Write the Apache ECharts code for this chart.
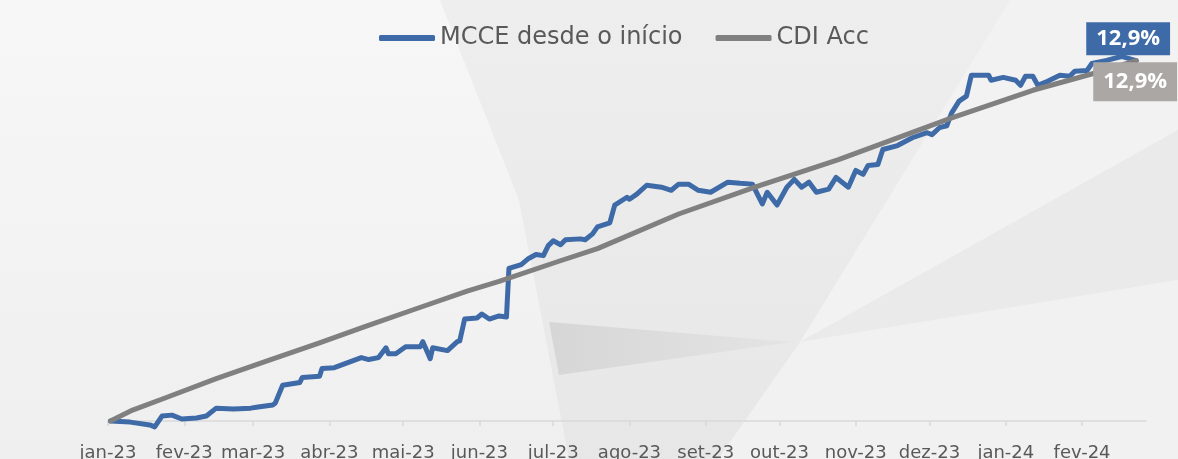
<!DOCTYPE html>
<html>
<head>
<meta charset="utf-8">
<script src="https://cdn.jsdelivr.net/npm/echarts@6/dist/echarts.min.js"></script>
<style>
html, body { margin: 0; padding: 0; background: #efefef; }
#main { width: 1178px; height: 459px; }
</style>
</head>
<body>
<div id="main"></div>
<script>
// MCCE desde o início (% acumulado)
var mcceDates = ['2023-01-02','2023-01-10','2023-01-18','2023-01-20','2023-01-23','2023-01-27','2023-01-31','2023-02-06','2023-02-10','2023-02-14',
	'2023-02-21','2023-02-28','2023-03-03','2023-03-09','2023-03-10','2023-03-13','2023-03-20','2023-03-21','2023-03-28','2023-03-29',
	'2023-04-03','2023-04-14','2023-04-17','2023-04-21','2023-04-24','2023-04-25','2023-04-28','2023-05-02','2023-05-08','2023-05-09',
	'2023-05-12','2023-05-13','2023-05-19','2023-05-23','2023-05-24','2023-05-26','2023-05-31','2023-06-02','2023-06-05','2023-06-09',
	'2023-06-12','2023-06-13','2023-06-18','2023-06-21','2023-06-24','2023-06-27','2023-06-29','2023-07-01','2023-07-04','2023-07-06',
	'2023-07-12','2023-07-14','2023-07-17','2023-07-19','2023-07-24','2023-07-26','2023-07-31','2023-08-01','2023-08-04','2023-08-08',
	'2023-08-14','2023-08-18','2023-08-21','2023-08-25','2023-08-29','2023-09-03','2023-09-10','2023-09-15','2023-09-20','2023-09-22',
	'2023-09-24','2023-09-26','2023-09-30','2023-10-04','2023-10-07','2023-10-10','2023-10-13','2023-10-16','2023-10-21','2023-10-24',
	'2023-10-29','2023-11-01','2023-11-04','2023-11-06','2023-11-10','2023-11-12','2023-11-18','2023-11-24','2023-11-30','2023-12-02',
	'2023-12-05','2023-12-08','2023-12-10','2023-12-13','2023-12-16','2023-12-18','2023-12-25','2023-12-26','2023-12-31','2024-01-05',
	'2024-01-07','2024-01-09','2024-01-12','2024-01-14','2024-01-18','2024-01-23','2024-01-27','2024-01-29','2024-02-03','2024-02-05',
	'2024-02-11','2024-02-17','2024-02-23'];
var mcceValues = [0.00,-0.04,-0.14,-0.21,0.18,0.21,0.07,0.11,0.18,0.46,
	0.43,0.46,0.50,0.57,0.64,1.28,1.38,1.56,1.60,1.88,
	1.91,2.27,2.20,2.27,2.62,2.41,2.41,2.66,2.66,2.84,
	2.23,2.62,2.52,2.84,2.87,3.65,3.69,3.83,3.65,3.76,
	3.72,5.46,5.60,5.82,5.96,5.92,6.28,6.45,6.31,6.49,
	6.52,6.49,6.70,6.95,7.09,7.73,8.01,7.94,8.12,8.44,
	8.37,8.26,8.48,8.48,8.26,8.19,8.55,8.51,8.48,8.12,
	7.77,8.19,7.73,8.37,8.65,8.37,8.55,8.19,8.30,8.72,
	8.37,8.97,8.83,9.15,9.18,9.72,9.86,10.14,10.32,10.25,
	10.50,10.57,11.03,11.45,11.63,12.38,12.38,12.20,12.30,12.20,
	12.02,12.34,12.34,12.02,12.16,12.38,12.34,12.52,12.55,12.80,
	12.91,13.05,12.90];

// CDI acumulado
var cdiDates = ['2023-01-02','2023-01-11','2023-01-25','2023-02-14','2023-03-07','2023-03-28','2023-04-16','2023-05-06','2023-05-27','2023-06-09',
	'2023-07-03','2023-07-19','2023-08-21','2023-09-21','2023-10-25','2023-12-10','2024-01-12','2024-02-06','2024-02-23'];
var cdiValues = [0.00,0.39,0.85,1.52,2.16,2.80,3.40,4.01,4.65,5.00,
	5.71,6.17,7.41,8.37,9.36,10.85,11.84,12.45,12.90];

// eixo x
var tickDates = ['2023-01-01','2023-02-01','2023-03-01','2023-04-01','2023-05-01','2023-06-01','2023-07-01',
	'2023-08-01','2023-09-01','2023-10-01','2023-11-01','2023-12-01','2024-01-01','2024-02-01'];
var tickLabels = ['jan-23','fev-23','mar-23','abr-23','mai-23','jun-23','jul-23',
	'ago-23','set-23','out-23','nov-23','dez-23','jan-24','fev-24'];
var axisStart = '2023-01-01';
var axisEnd = '2024-02-27';

var seriesNames = ['MCCE desde o início', 'CDI Acc'];

initPage();

function initPage(){
	buildEchart();
}

// dias corridos desde o início do eixo
function dayNum(d){
	var t0 = Date.UTC(2023, 0, 1);
	var p = d.split('-');
	return Math.round((Date.UTC(+p[0], +p[1] - 1, +p[2]) - t0) / 86400000);
}

function toPairs(dates, values){
	var out = [];
	for (var i = 0; i < dates.length; i++) {
		out.push([dayNum(dates[i]), values[i]]);
	}
	return out;
}

function fmtPct(p){
	return p.value[1].toFixed(1).replace('.', ',') + '%';
}

function grad(x0, y0, x1, y1, c0, c1){
	return new echarts.graphic.LinearGradient(x0, y0, x1, y1, [{ offset: 0, color: c0 }, { offset: 1, color: c1 }]);
}

function buildEchart(){
	var tickDays = tickDates.map(dayNum);

	var myChart = echarts.init(document.getElementById('main'));

	var option = {
		backgroundColor: '#efefef',
		animation: false,
		graphic: [
			// fundo geométrico
			{ type: 'polygon', z: -5, shape: { points: [[0,0],[440,0],[519,200],[569,459],[0,459]] }, style: { fill: grad(0, 0, 0, 1, '#f7f7f7', '#efefef') } },
			{ type: 'polygon', z: -5, shape: { points: [[440,0],[1010,0],[936,200],[718,459],[569,459],[519,200]] }, style: { fill: grad(0, 0, 0, 1, '#eeeeee', '#e7e7e7') } },
			{ type: 'polygon', z: -5, shape: { points: [[1010,0],[1178,0],[1178,130],[800,342]] }, style: { fill: '#f2f2f2' } },
			{ type: 'polygon', z: -5, shape: { points: [[1178,130],[1178,280],[800,342]] }, style: { fill: '#eaeaea' } },
			{ type: 'polygon', z: -5, shape: { points: [[549,322],[559,375],[792,342]] }, style: { fill: grad(0, 0, 1, 0, '#d6d6d6', '#e4e4e4') } },
			{ type: 'polygon', z: -5, shape: { points: [[718,459],[800,342],[1178,280],[1178,459]] }, style: { fill: '#f1f1f1' } }
		],
		legend: {
			data: seriesNames,
			left: 379,
			top: 26,
			padding: 0,
			icon: 'roundRect',
			itemWidth: 56,
			itemHeight: 6,
			itemGap: 33,
			textStyle: { color: '#595959', fontSize: 24, fontFamily: 'DejaVu Sans' }
		},
		grid: { left: 108, right: 32, top: 2, bottom: 38, outerBoundsMode: 'none' },
		xAxis: {
			type: 'value',
			min: dayNum(axisStart),
			max: dayNum(axisEnd),
			splitLine: { show: false },
			axisLine: { lineStyle: { color: '#d9d9d9', width: 1.5 } },
			axisTick: { show: true, customValues: tickDays, length: 5, lineStyle: { color: '#d9d9d9', width: 1.5 } },
			axisLabel: {
				customValues: tickDays,
				margin: 23,
				color: '#595959',
				fontSize: 18,
				fontFamily: 'DejaVu Sans',
				hideOverlap: false,
				formatter: function(val){
					var i = tickDays.indexOf(val);
					return i >= 0 ? tickLabels[i] : '';
				}
			}
		},
		yAxis: {
			type: 'value',
			min: 0,
			max: 15,
			show: false,
			splitLine: { show: false }
		},
		series: [{
			name: seriesNames[0],
			type: 'line',
			data: toPairs(mcceDates, mcceValues),
			showSymbol: false,
			clip: false,
			color: '#3e6ba8',
			lineStyle: { width: 5, color: '#3e6ba8', join: 'round', cap: 'round' },
			z: 3,
			endLabel: {
				show: true,
				formatter: fmtPct,
				color: '#ffffff',
				fontFamily: 'Open Sans',
				fontWeight: 'bold',
				fontSize: 22,
				backgroundColor: '#3e6ba8',
				padding: [6, 10, 5, 10],
				align: 'center',
				verticalAlign: 'middle',
				distance: 0,
				offset: [-8, -22]
			}
		}, {
			name: seriesNames[1],
			type: 'line',
			data: toPairs(cdiDates, cdiValues),
			showSymbol: false,
			clip: false,
			color: '#808080',
			lineStyle: { width: 5, color: '#808080', join: 'round', cap: 'round' },
			z: 4,
			endLabel: {
				show: true,
				formatter: fmtPct,
				color: '#ffffff',
				fontFamily: 'Open Sans',
				fontWeight: 'bold',
				fontSize: 22,
				backgroundColor: '#aba7a5',
				padding: [8, 10, 9, 10],
				align: 'center',
				verticalAlign: 'middle',
				distance: 0,
				offset: [-1, 21]
			}
		}]
	};

	myChart.setOption(option);
}
</script>
</body>
</html>
